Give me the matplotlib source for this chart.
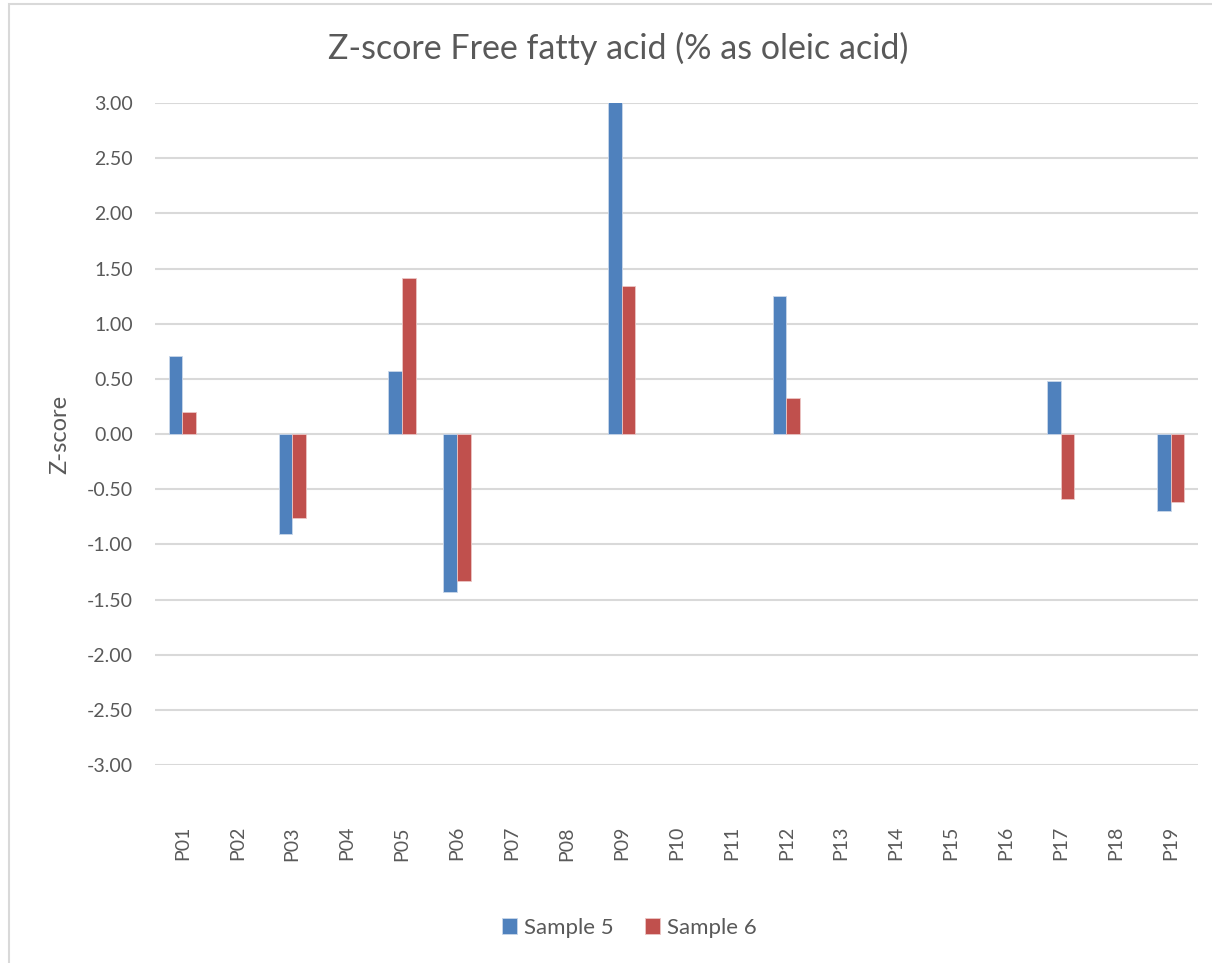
import numpy as np
import matplotlib.pyplot as plt
from matplotlib.patches import Rectangle

plt.rcParams['font.family'] = ['Lato', 'DejaVu Sans']

labs = ["P%02d" % i for i in range(1, 20)]
nan = np.nan
s5 = [0.71, nan, -0.91, nan, 0.57, -1.43, nan, nan, 3.01, nan, nan, 1.25, nan, nan, nan, nan, 0.48, nan, -0.70]
s6 = [0.20, nan, -0.76, nan, 1.41, -1.33, nan, nan, 1.34, nan, nan, 0.33, nan, nan, nan, nan, -0.59, nan, -0.62]
yticks = np.arange(-3, 3.01, 0.5)

blue = "#4F81BD"
red = "#C0504D"
grey = "#595959"

fig = plt.figure(figsize=(12.12, 9.63), dpi=100)
ax = fig.add_axes([155/1212, 1 - 765/963, (1198-155)/1212, (765-103)/963])

x = np.arange(len(labs))
w = 0.25
ax.bar(x - w/2, s5, w, color=blue, edgecolor="#C9D7EA", linewidth=0.6, label="Sample 5", zorder=3)
ax.bar(x + w/2, s6, w, color=red, edgecolor="#EBC6C5", linewidth=0.6, label="Sample 6", zorder=3)

ax.set_xlim(-0.5, len(labs) - 0.5)
ax.set_ylim(-3, 3)
ax.set_yticks(yticks)
ax.set_yticklabels(["%.2f" % v for v in yticks])
ax.yaxis.grid(True, color="#D9D9D9", linewidth=1.5, zorder=0)
ax.set_xticks(x)
ax.set_xticklabels(labs, rotation=90, va="top")
ax.tick_params(axis="x", length=0, pad=44, labelsize=14, labelcolor=grey)
ax.tick_params(axis="y", length=0, pad=16, labelsize=14, labelcolor=grey)
for s in ax.spines.values():
    s.set_visible(False)

ax.set_ylabel("Z-score", fontsize=17, color=grey, labelpad=12)

fig.text(0.51, 1 - 48/963, "Z-score Free fatty acid (% as oleic acid)", ha="center", va="center",
         fontsize=24.5, color=grey)

leg = fig.legend(loc="center", bbox_to_anchor=(0.519, 1 - 928/963), ncol=2, frameon=False,
                 fontsize=16, handlelength=0.7, handleheight=0.7, handletextpad=0.3,
                 columnspacing=1.4)
for t in leg.get_texts():
    t.set_color(grey)

fig.patches.append(Rectangle((9/1212, -0.05), 1.1, 1 - 4/963 + 0.05, transform=fig.transFigure,
                             fill=False, edgecolor="#D9D9D9", linewidth=1.5))

fig.savefig("out.png", dpi=100)
